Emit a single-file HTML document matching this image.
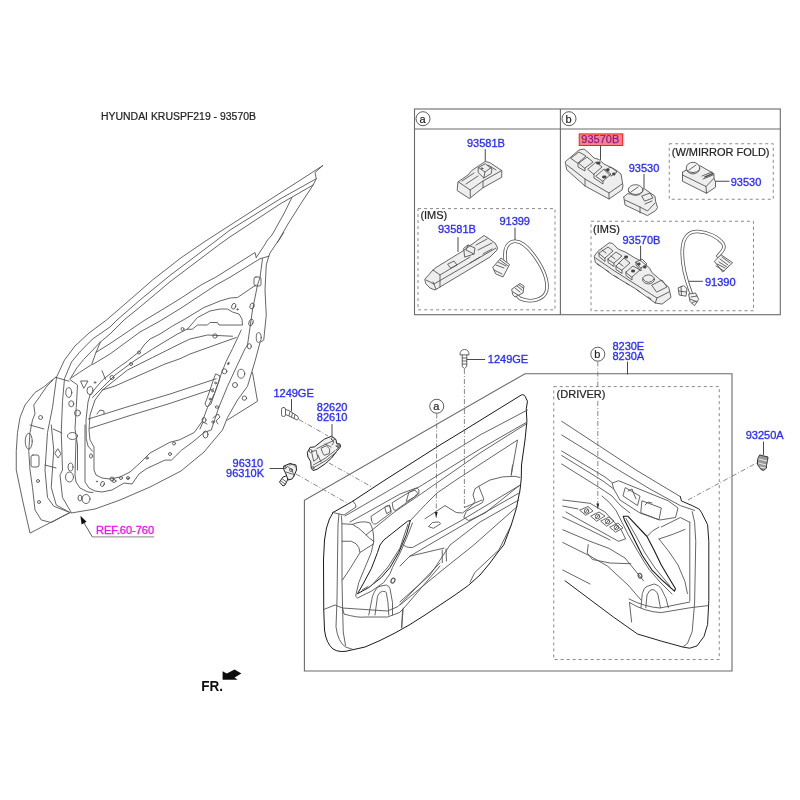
<!DOCTYPE html>
<html><head><meta charset="utf-8">
<style>
html,body{margin:0;padding:0;background:#fff;width:800px;height:800px;overflow:hidden}
svg{display:block}
text{font-family:"Liberation Sans",sans-serif;font-size:11px}
.b{fill:#2a2aff;stroke:#2a2aff;stroke-width:0.3}
.k{fill:#222;stroke:#222;stroke-width:0.2}
.box{fill:none;stroke:#6a6a6a;stroke-width:1.1}
.dash{fill:none;stroke:#8a8a8a;stroke-width:1;stroke-dasharray:3 3}
.ln{fill:none;stroke:#555;stroke-width:0.9;stroke-linejoin:round;stroke-linecap:round}
.ld{fill:none;stroke:#6a6a6a;stroke-width:0.8;stroke-dasharray:5 2 1 2}
.ldr{fill:none;stroke:#333;stroke-width:0.9}
</style></head><body>
<svg width="800" height="800" viewBox="0 0 800 800">
<defs><filter id="bl" x="0" y="0" width="800" height="800" filterUnits="userSpaceOnUse"><feGaussianBlur stdDeviation="0.45"/></filter></defs>
<g filter="url(#bl)">
<rect x="0" y="0" width="800" height="800" fill="#fff"/>
<!-- title -->
<text x="101" y="120" class="k" id="title" style="font-size:10px" textLength="155" lengthAdjust="spacingAndGlyphs">HYUNDAI KRUSPF219 - 93570B</text>

<!-- top-right boxes -->
<rect x="414.5" y="109" width="365.8" height="205.7" class="box"/>
<line x1="414.5" y1="129" x2="780.3" y2="129" class="box"/>
<line x1="560.4" y1="109" x2="560.4" y2="314.7" class="box"/>
<circle cx="423" cy="118.7" r="7" fill="none" stroke="#333" stroke-width="0.8"/>
<text x="419.5" y="122.5" class="k">a</text>
<circle cx="569" cy="118.7" r="7" fill="none" stroke="#333" stroke-width="0.8"/>
<text x="565.5" y="122.5" class="k">b</text>

<rect x="418" y="208.6" width="137" height="101.2" class="dash"/>
<rect x="669.25" y="143.75" width="104" height="55.5" class="dash"/>
<rect x="591" y="221.25" width="162.5" height="89.5" class="dash"/>

<text x="467" y="147" class="b">93581B</text>
<text x="420.4" y="219" class="k">(IMS)</text>
<text x="499.4" y="225.4" class="b">91399</text>
<text x="438" y="233.4" class="b">93581B</text>
<rect x="579.2" y="133.9" width="43.4" height="11.6" fill="#f88282" stroke="#ff1f1f" stroke-width="1"/>
<text x="581.3" y="143.4" fill="#8a1a9a" stroke="#8a1a9a" stroke-width="0.25">93570B</text>
<text x="628.75" y="172" class="b">93530</text>
<text x="671.75" y="155.5" class="k">(W/MIRROR FOLD)</text>
<text x="730.75" y="185.75" class="b">93530</text>
<text x="593" y="233" class="k">(IMS)</text>
<text x="622.5" y="243.75" class="b">93570B</text>
<text x="705" y="285.5" class="b">91390</text>

<!-- lower section -->
<path d="M304.4,671 L304.4,500.2 L525,373.75 L732,373.75 L732,671 Z" class="box"/>
<rect x="553.75" y="386.6" width="165.5" height="272.9" class="dash"/>
<text x="556.6" y="397.8" class="k">(DRIVER)</text>
<text x="487.8" y="363.3" class="b">1249GE</text>
<text x="612.4" y="349.5" class="b">8230E</text>
<text x="612.4" y="359.8" class="b">8230A</text>
<text x="745.7" y="438.8" class="b">93250A</text>
<text x="273.4" y="396.5" class="b">1249GE</text>
<text x="316.8" y="410.9" class="b">82620</text>
<text x="316.8" y="421.4" class="b">82610</text>
<text x="232.6" y="466.9" class="b">96310</text>
<text x="226.1" y="477.4" class="b">96310K</text>
<circle cx="436.75" cy="406.25" r="7" fill="none" stroke="#333" stroke-width="0.8"/>
<text x="433.3" y="410" class="k">a</text>
<circle cx="597.8" cy="354.2" r="7" fill="none" stroke="#333" stroke-width="0.8"/>
<text x="594.3" y="358" class="k">b</text>

<text x="96" y="534.1" fill="#ee11ee" stroke="#ee11ee" stroke-width="0.3">REF.60-760</text>
<line x1="92.3" y1="536.9" x2="154.2" y2="536.9" stroke="#888" stroke-width="1"/>
<line x1="92.3" y1="536.9" x2="83.5" y2="522" stroke="#333" stroke-width="0.8"/>
<path d="M80.4,515.8 L81.6,524.6 L86.6,521.8 Z" fill="#111"/>

<text x="201.3" y="690.75" style="font-size:15px;font-weight:bold" fill="#111" textLength="21.8" lengthAdjust="spacingAndGlyphs">FR.</text>
<path d="M222.6,671.25 L222.6,679.65 L237.6,679.65 L234.6,677.4 L241.4,673.5 L234.6,669.4 L226.75,673.5 Z" fill="#111"/>

<g id="draw">
<g id="door" class="ln">
<!-- frame outer 3 lines -->
<path d="M322.75,165.6 L300,180.3 L255,209.2 L230,225.3 L205,241.4 L180,258.5 L170,266.4 L152.5,280 L140,291 L125,304 L106.5,320 L89,333 L75,346 L64.5,360 L56.6,377 L52.5,407.5 L47.5,432.5 L45,470 L47.5,497.5 L53.75,506.25 L70,512.5"/>
<path d="M316.25,178.75 L280,199 L230,230 L217,240 L170,275.4 L140,300 L117,320 L110,327 L92.5,339 L79.4,352.4 L71.5,362 L64.5,378.6 L62.5,401.25 L61.25,432.5 L62.5,470 L60,475 L62.5,497.5 L71.25,512.5"/>
<path d="M313.1,185 L280,204 L230,236.9 L220,244 L170,281.75 L140,307 L124,320 L110,334 L100.4,342 L83.75,359.4 L76.75,368 L69.75,379.5 L77.5,385 L76.25,407.5 L75,428.75 L77.5,445 L77.5,470"/>
<path d="M100.4,342 L96,352.4 L91.6,364.6 L79.4,372.5 L71.5,377.75"/>
<path d="M55.75,377.3 L69,381.25 M102,370.75 L105.6,379.5"/>
<!-- tip -->
<path d="M322.75,165.6 L315,172.5 L316.25,178.75 L313.1,185"/>
<!-- rear pillar -->
<path d="M291.9,197.5 L283.75,214 L272,235 L267.5,240 L263.75,246.25 L256.25,257.5"/>
<path d="M313.1,185 L300,205 L288,224 L278.75,240 L270,253 L268.75,256.25"/>
<path d="M283.75,232.5 L277.5,242.5"/>
<!-- belt lines -->
<path d="M256.25,257.5 L255,252.5 L230,268.25 L216,277 L201,285 L180,298.75 L160,311 L145,320 L110,343.6 L96,352.4"/>
<path d="M268.75,256.25 L260,258.75 L230,277.25 L216,285 L180,308.75 L160,321 L140,332 L110,354 L92.5,364.6"/>
<!-- inner panel rear edge -->
<path d="M268.75,256.25 L266.25,265 L265,290 L266.25,315 L263.75,340 L260,342.5 L255,361.25 L247.5,386.25 L237.5,400 L227.5,417.5 L222.5,430 L214,440 L204,452 L181,471 L150,487 L120,500 L95,509 L71.25,513"/>
<path d="M262.5,258.75 L260,277.5 L257.5,285 L252.5,310 L247.5,345 L245,348.75 L235,370 L227.5,386.25 L218.75,407.5 L211.25,430 L204,432.5 L194,441 L181.25,450.4 L171.5,460.1 L165,460.1 L150,467"/>
<path d="M252.5,372.5 L257.5,401.25 L227.5,420"/>
<!-- window opening contours -->
<path d="M256,285 L250,289 L237.5,297.5 L230,298 L220,301 L204,307.5 L185,319 L172.5,326 L160,334 L150,339 L144,345 L140,351 L127.5,361 L115,370 L102.5,380 L94,390 L90,395 L88,402 L86,420 L86.25,438.75 L88,446 L92.5,451.25"/>
<path d="M187.5,329 L197.5,317.5 L210,311 L220,309 L227.5,309 L232.5,312 L239,314 L242,319 L242.5,325 L230,325 L219,325 L217.5,322.5 L210,322.5 L207.5,325 L197.5,325 L192.5,329 Z"/>
<path d="M187.5,329 L177.5,334 L152.5,349 L134,361 L115,375 L102.5,387.5 L92.5,397.5"/>
<path d="M232.5,336.25 L207.5,335 L190,339 L180,343.75 L152.5,357.5 L127.5,370 L102.5,390"/>
<path d="M236.25,337.5 L190,354 L180,358.75 L165,364 L140,375 L115,386 L102.5,390"/>
<path d="M241.25,330 L232.5,348.75 L226.25,361.25 L221.25,373.75 L215,392.5 L207.5,407.5 L202.4,421.1 L194.25,432.5 L179.6,439.8 L169.9,442.25 L150,453 L140,463 L130,472 L120,477 L110,479 L102,478 L96,475 L94,470 L94,447 L90,440 L89,430 L90,415 L95,400 L102.5,390"/>
<!-- beams -->
<path d="M88.4,419 L130,406 L170,394 L216.25,378.75"/>
<path d="M89.6,428.4 L130,415.5 L170,403.4 L213.75,388.75"/>
<!-- front edge -->
<path d="M55.75,377.3 L50.5,381.25 L44.4,386.5 L35,392.5 L25,405 L20,417.5 L17.5,432.5 L16.25,451.25 L16.25,470 L17.5,476 L22.5,500 L30,533.1 L70,512.5"/>
<path d="M53,380 L47,386 L40,396.25 L33.75,405 L35,413.75 L32.5,420 L30,432.5 L28.75,451.25 L30,470 L32.5,487.5 L35,510 L41.25,520 L51.25,522.5 L70,512.5"/>
<path d="M51.25,425 L53.75,450 L51.25,487.5 L56.25,505 L68.75,511.9"/>
<path d="M85,425 L85,482 L89,488 L95,491 L102,492 L112,490 L124,483 L132,484 L139,474 L146,469 L150,467"/>
<path d="M76,440 L75,475 L76,482 L80,488 L88,492 L93,492.5"/>
<path d="M30,425 L44,429 M53,429 L62,433 M45,465 L56,468"/>
</g>
<g id="doorholes" class="ln">
<ellipse cx="233.75" cy="306.25" rx="2" ry="3" transform="rotate(20 233.75 306.25)"/>
<ellipse cx="252" cy="306" rx="2" ry="3" transform="rotate(20 252 306)"/>
<ellipse cx="251" cy="322.5" rx="2" ry="3.5" transform="rotate(20 251 322.5)"/>
<circle cx="237.5" cy="309.4" r="0.7"/>
<circle cx="182.5" cy="329" r="1.5"/>
<circle cx="139" cy="352.5" r="1.5"/>
<circle cx="131" cy="364" r="1.5"/>
<circle cx="112" cy="377.5" r="2"/>
<circle cx="95" cy="382.5" r="0.8"/>
<circle cx="215" cy="336" r="2.2"/>
<rect x="254" y="277" width="7" height="9" rx="2"/>
<ellipse cx="258.75" cy="337.5" rx="2.5" ry="5"/>
<ellipse cx="249.4" cy="346.25" rx="2" ry="2.6"/>
<ellipse cx="241.25" cy="373.75" rx="3.5" ry="4.5"/>
<ellipse cx="235" cy="385" rx="2.5" ry="2.5"/>
<ellipse cx="244.4" cy="398.1" rx="2.2" ry="2.2"/>
<ellipse cx="224.4" cy="371.25" rx="2.5" ry="2.5"/>
<ellipse cx="28.75" cy="441.25" rx="3.5" ry="8"/>
<rect x="31" y="455" width="8" height="12" rx="2"/>
<path d="M58,449 L61,453.75 L58,458 L55,453.75 Z"/>
<ellipse cx="71.25" cy="403.75" rx="2.5" ry="3"/>
<ellipse cx="77.5" cy="413" rx="3" ry="3"/>
<ellipse cx="72.5" cy="436" rx="5" ry="3.5"/>
<ellipse cx="68.75" cy="392.5" rx="3" ry="5"/>
<path d="M81,381 L88,381 L84,388 Z"/>
<ellipse cx="90" cy="390.6" rx="3" ry="4"/>
<ellipse cx="40.6" cy="417.5" rx="2" ry="2"/>
<ellipse cx="69.5" cy="477" rx="4" ry="5"/>
<ellipse cx="70.5" cy="467" rx="2.5" ry="4"/>
<ellipse cx="86" cy="499" rx="4" ry="4.5"/>
<ellipse cx="80" cy="498" rx="2" ry="3"/>
<ellipse cx="102.5" cy="484" rx="1.8" ry="2.6" transform="rotate(20 102.5 484)"/><ellipse cx="114" cy="481" rx="2" ry="1.4"/><circle cx="97" cy="481.5" r="0.6"/><circle cx="128" cy="478.5" r="0.6"/><ellipse cx="91" cy="456" rx="1.5" ry="2.2"/>
<ellipse cx="38" cy="481" rx="1.5" ry="1.5"/>
<ellipse cx="39" cy="502" rx="1.5" ry="1.5"/>
<ellipse cx="112" cy="479" rx="2" ry="2"/>
<ellipse cx="121" cy="478" rx="1.5" ry="1.5"/>
<ellipse cx="128" cy="478" rx="1.5" ry="1.5"/>
<ellipse cx="147" cy="458" rx="1.2" ry="1.2"/>
<ellipse cx="170" cy="454" rx="1.5" ry="1.5"/>
<ellipse cx="174" cy="443.5" rx="1.5" ry="1.5"/>
<ellipse cx="204" cy="420" rx="2" ry="2.5"/>
<ellipse cx="205.5" cy="434.5" rx="2.5" ry="3.5"/>
<ellipse cx="213" cy="422" rx="1.2" ry="1.2"/>
<path d="M200,429 L203,422 L207,424"/>
<path d="M97,414 L100,410 L104,411 L104,414"/>
<path d="M216,374 L220,376 L219,381 L215,392 L211,404 L207,407 L205,404 L209,393 L213,381 Z"/><circle cx="215.5" cy="383" r="0.9"/><circle cx="212.5" cy="391" r="0.9"/><circle cx="210" cy="399" r="0.9"/><circle cx="228" cy="364" r="0.6"/><circle cx="228.5" cy="363" r="0.6"/><ellipse cx="217" cy="407" rx="1.8" ry="1.2"/><path d="M213,418 L218,414 L220,417 L216,421 L218,424"/>
</g>
<g id="panel" class="ln">
<!-- outline dark -->
<path d="M333,512.5 L351.5,502 L353,501 L385,480 L440,445 L463,431 L521.25,395 Q524.5,393.5 526.25,398.75 L527.5,401.25 L526.25,408.75 L526.9,421.25 L525,440 L521.5,465 L521.25,478.75 L520,490 L516.25,508.75 L511.25,525 L503.75,545 L498,552 L490,563 L480,575 L468.25,585.5 L455,595 L440,605 L425,615 L410,624.5 L395,633 L380,640.5 L365,647 L351.5,650 Q340,653.5 333,649 Q326,643 324.5,630 L323.75,610 L323.5,560 L324.5,540 L326.5,528 Q329,518 333,512.5 Z" stroke="#1a1a1a" stroke-width="1"/>
<!-- ear -->
<path d="M353,501 L355.5,504.5 L356,507 L344,515 L339,514 L333,512.5"/>
<!-- rim -->
<path d="M339,514 L338,525 L337.5,560 L337,600 L336,627 Q338,642 345.5,647 L353,649.5"/>
<path d="M341.5,516 L341.9,523.75 L342,541 L342,580 L342.5,605 L343.25,632 L345.5,645.5"/>
<!-- bands -->
<path d="M345,516 L400,484 L480,435 L527.5,410"/>
<path d="M350,522 L400,494 L419,487 L480,449 L526.25,422.5"/>
<path d="M366,535 L393.75,512.5 L421.25,493.75 L480,453 L526,424"/>
<path d="M410,521 Q422,508 430,500 L437,493 L456,480 L517.5,440 L511.25,475"/>
<path d="M512.5,465 L511.25,475"/>
<!-- window switch bezel -->
<path d="M371.25,516.25 L386.25,506.25 Q389,505 390,507 L391.25,512.5 L376.25,523.75 Q373,525 372,522 Z"/>
<path d="M385,507 L389.5,505 L391,511 L387,513.5 Z"/>
<!-- slot -->
<path d="M392.5,502.5 L415,488.75 Q418,487.5 419,490 L418.75,493.75 L396.25,510 Q393.5,511 393,508 Z"/>
<path d="M406.25,501.5 L408.75,492.5 L415,490 L418,493.5 L413.5,497.5 L407.5,501"/>
<!-- curve left of handle -->
<path d="M342,523.75 L352.5,524.4 Q358.75,527.5 365,533.75 L370,538.75 L373.75,541.25"/>
<path d="M373.75,541.25 L371.25,552.5 L365,567.5 L358.75,582.5 L355.6,596.25 L357.5,598 L371.25,591.25 L383.75,582.5 L390,573.75 L392.5,567.5 L400,553 L407,537 L412.5,523"/>
<path d="M352.5,524.4 Q362,520 370,523 Q374,530 373.75,541.25"/>
<!-- handle sliver dark -->
<path d="M410,520.6 L407.5,521.25 L383.75,540 L380,545 L377.5,552.5 L371.25,568.75 L362.5,585 L357.5,593.75 L368.75,587.5 L381.25,577.5 L390,567.5 L398.75,552.5 L406.25,535 Z" stroke="#1a1a1a" stroke-width="1"/>
<path d="M408,524 L400,548 L388,567 L372,585 M362,590 L368,586.5"/>
<!-- left pocket -->
<path d="M342,541.25 L351.25,541.25 Q357,543 358.75,547.5 L360,552.5 L350,568.75 L342.5,580"/>
<path d="M360,552.5 L373.75,543.75"/>
<!-- speaker -->
<path d="M368.75,615 L372.5,596.25 Q376,587 380,586.25 L386.25,585 Q389.5,586 390,588.75 L392.5,602.5 L392.5,615"/>
<path d="M375,615 L377.5,596.25 Q379.5,591.5 382.5,591.25 Q386,591.5 386.25,592.5 L388,602.5 L388.75,615"/>
<ellipse cx="393" cy="580.6" rx="1.8" ry="2.6" transform="rotate(25 393 580.6)" stroke-width="1.2"/>
<!-- lower band -->
<path d="M323.75,609.5 L335,605 L342.5,608 L344,614 Q358,618 365,617 L387.5,617 L399.5,612.5 L404,608 L440,566"/>
<path d="M342.5,608 L365,609.5 L387.5,611 L398,606.5 L440,563"/>
<path d="M402.5,609.5 L401.75,627.5"/>
<!-- armrest -->
<path d="M425,518.75 L445,505.6 L456.25,512.5 L462.5,513 L472.5,505 L475,501.25 L473,495 L475,488.75 L478.75,486.25 L490,480 L502.5,476.9 L515,476.25 L520,477.5"/>
<path d="M478.75,486.25 L483.75,498.75 L482.5,502.5 L466.25,511.25 L463.75,517.5 L468.75,520.6 L485,513 L520,485"/>
<path d="M464.4,507.5 L482,500"/>
<path d="M402.5,543.75 Q405,548 412.5,547.5 L460,521.25 L519.5,485.5"/>
<path d="M409.75,556.25 L428.75,545 L470,521 L520,492.5"/>
<path d="M400,566 L409.75,556.25"/>
<path d="M400,601.75 L430,575 L450,545 L480,522 L518.75,500"/>
<path d="M400,605 L440,572 L473.75,545 L517.5,506.25"/>
<path d="M470,582.25 L474.75,572.5 L499,549.75 L511.25,525"/>
<path d="M409.75,556.25 L443.9,548.1 M442.25,550 L442.25,562.75 M446,549 L446.5,561"/>
<path d="M403.25,608 L401.6,627.75"/>
<!-- a target -->
<path d="M428.75,526.25 L432.5,522.5 L438.75,521.9 L440.6,523.75 L433.75,528.1 Z"/>
</g>
<g class="ld">
<path d="M464.4,369 L464.4,507.5"/>
<path d="M436.75,413.5 L436.25,514"/>
</g>
<path d="M434.8,512 L437.6,512 L436.2,518.5 Z" fill="#222"/>
<g id="driver" class="ln">
<path d="M561.7,421.25 L636,470 L680.3,496.6"/>
<path d="M561.7,435 L618.5,470 L650,489 L680.3,505.6 L694.6,510.4"/>
<path d="M561.7,451 L605,477 L612.6,483"/>
<path d="M561.7,455.5 L603,481 L613.8,489"/>
<path d="M561.7,464 L600,488 L612,496 L620,505 L630,513"/>
<!-- ear + right edges -->
<path d="M680.3,496.6 L681.5,501 L692.2,505.6 L699.3,509.2 L701.7,512.8 L707.6,524.7 L708.8,541.3 L708.8,600.7 L707.6,624.5 L704,636.4 L697,645.9 L689.8,648.2 L682.7,647 L661.3,641.1 L637.5,634 L613.8,617.3 L590,599.5 L565,580.75" stroke="#222" stroke-width="1"/>
<path d="M692.2,511.6 L694.6,522.3 L695.75,541.3 L694.6,603 L692.2,631.6 L687.4,643.5 L682.7,647"/>
<path d="M689.8,522.3 L689.8,600.7"/>
<!-- lower band -->
<path d="M629.5,602.5 Q645,612 661.3,612.6 L689.8,607.8 L708.8,605.5"/>
<path d="M629.5,602.5 L631.6,622"/>
<path d="M629,599 Q645,607 660,608 L689.8,602"/>
<!-- speaker -->
<path d="M641,607.8 L642.3,593.6 Q644,587 647,586.4 L654.2,584 Q659,585 661.3,588.8 L666,598.3 L668.4,607.8"/>
<path d="M645.8,607.8 L647,595 Q649.5,589.5 652,589.5 Q656.5,590 658,595 L660.5,607.8"/>
<ellipse cx="640" cy="575.75" rx="1.8" ry="2.4" transform="rotate(-20 640 575.75)" stroke-width="1.2"/>
<!-- handle dark -->
<path d="M623.3,516.3 L628,516.3 L647,536.5 L654,550 L661.3,565 L668.4,577 L675.5,588.8 L674.4,591.2 L661.3,579.3 L651.8,569.8 L642.3,555.5 L632.8,536.5 L624.5,520 Z" stroke="#1a1a1a" stroke-width="1.1"/>
<path d="M626,518.5 L636,536 L645,553 L655,568 L670,586"/>
<!-- bezel around handle -->
<path d="M602,496 Q610,502 616,510.4 L628,534.2 L637.5,550.8 L644.7,562.7 L649.4,569.8 L660,582 L672,594"/>
<path d="M659,539 L673.2,534.2 L685,529.4 M659,539 L668.4,550.8 L678,565 L685,581.7 L687.4,593.6"/>
<path d="M661.3,527 L680.3,517.5 L689.8,522.3"/>
<path d="M647,536.5 Q652,530 659,527"/>
<!-- top bezel/slots -->
<path d="M612.6,483 L618.5,480.7 L668.4,500.9 L678,508 L675.5,517.5 L660,520 L640,513 L620,500 L613.8,489 Z"/>
<path d="M625.6,487.8 L640,496.1 L637.5,505.6 L623.3,496.1 Z"/>
<path d="M642.3,500.9 L661.3,508 L659,519.9 L641.1,512.8 Z"/>
<path d="M628,491 L632,489 L636,499 M645,505 L648,502 L652,503"/>
<!-- switch cluster -->
<path d="M562.75,500 L590,503.3 L605,512 L620.9,529.4 L625.6,538.9 L618.5,541.3 L600,531 L580,520 L566,512" />
<path d="M562.75,506 L578,509"/>
<path d="M580,510 L588,506.5 L593,511 L586,515 Z"/>
<path d="M591,516 L599,512 L605,516 L597,521 Z"/>
<path d="M601,521 L609,517 L614,521 L607,526 Z"/>
<path d="M610,527 L618,523 L623,528 L616,532 Z"/>
<circle cx="586.5" cy="511" r="2.2"/><circle cx="597.5" cy="516.5" r="2.2"/><circle cx="607.5" cy="521.5" r="2.2"/><circle cx="616.5" cy="527.5" r="2.2"/>
<path d="M585,513 L588,509 M596,518.5 L599,514.5 M606,523.5 L609,519.5 M615,529.5 L618,525.5"/>
<!-- left lines -->
<path d="M562.75,529.75 L590,541.3 L609,548.4 L625,558 L643.5,580.75"/>
<path d="M562.75,542.5 L590,556 L607.4,566 L628,585 L641,600"/>
<path d="M588.25,544.6 L587.2,553 L592.5,559.5 L610,563 L630.75,563.75"/>
<path d="M562.75,517 L590,530 L610,540"/>
<path d="M562.75,570 L590,584"/>
</g>
<g class="ld">
<path d="M597.8,361.5 L597.8,388.5 M597.8,401 L597.8,506"/>
<path d="M688,500 L757.5,462.5"/>
</g>
<path d="M596.4,503.5 L599.2,503.5 L597.8,509.5 Z" fill="#333"/>
<g id="parts" class="ln">
<!-- leaders -->
<path class="ldr" d="M485.25,149.5 L485.25,161 M458,237.5 L458,251.5 M515,228 L515,240 M600.5,146 L600.5,159.5 M644,174.4 L644,188 M715.5,181.25 L729,181.25 M640.6,246.2 L640.6,261.4 M689,281.3 L702.4,281.3 M467,359.5 L484.75,359.5 M627.5,362 L627.5,374 M763.5,442 L763.5,454.5 M291.5,399.5 L291.5,411 M332,424.5 L332,436 M270,468.5 L284,468.5"/>

<!-- 93581B switch (a top) -->
<path d="M458.25,181.75 L468,175 L471.75,170.5 L485.25,161.5 L489.75,162.6 L501.75,170.5 L501.75,177.25 L495,181 L483,187.75 L470.25,197.9 L469.5,198.6 L457.5,190.75 Z" fill="#eeeeee"/>
<path d="M458.25,181.75 L470.25,190 L470.25,197.9 M470.25,190 L483,181 L501.75,170.5 M483,181 L483,187.75"/>
<path d="M478.5,167.5 L485.25,163.75 L492,169 L491.25,173.5 L483.75,178 L478.5,172.75 Z M478.5,167.5 L485,172 L491.25,167.5 M485,172 L483.75,178"/>
<path d="M462,181 L474,173 M466,184 L478,176 M488,165 L496,170"/>
<circle cx="482" cy="168.5" r="0.8"/>

<!-- IMS switch (a) -->
<path d="M425,279 L433,270 L436,267.5 L462,251.5 L484,235.5 L488,238 L495,243 L497.5,247.5 L497,250 L490,257 L470,269 L440,287 L435,290 L430,288 L426,284 Z" fill="#eeeeee"/>
<path d="M426,280 L434,284 L496,248 M433,282 L436,289 M433,270 L440,275 L470,257 M440,275 L440,287"/>
<path d="M464,248 L468,245 L475,248 L474,254 L465,257 Z M468,245 L466,250 L474,254"/>
<path d="M448,264 L454,261 L457,265 L451,268 Z"/>
<path d="M476,245 L487,239 M478,250 L492,243 M470,263 L480,257 M483,254 L492,249"/>

<!-- wire 91399 -->
<path d="M505.5,262 C504,252 505,243.5 513,241.5 C520,240 526,245 533,254 C542,266 549,279 546.5,291 C543.5,300.5 530,303 520,298.5 L516.5,295" fill="none" stroke="#555" stroke-width="3.6"/>
<path d="M505.5,262 C504,252 505,243.5 513,241.5 C520,240 526,245 533,254 C542,266 549,279 546.5,291 C543.5,300.5 530,303 520,298.5 L516.5,295" fill="none" stroke="#fff" stroke-width="2"/>
<path fill="#f4f4f4" d="M493,267 L501,258 L509.5,264.5 L503,277 L496,274 Z M496,265 L504,268 M498,262 L506,266 M494,270 L502,274 M500,260 L507.5,265.5" />
<path fill="#f4f4f4" d="M512,289 L520,283.5 L524,286 L523,293 L515,297 L513,295 Z M515,288 L520,292 M517,286 L522,290 M513,292 L518,295 M519,285 L523,288" />

<!-- 93570B (b main) -->
<path d="M565.5,161.5 L572,156 L579,150 L584,149 L589,153 L594,158 L599,159.5 L604,164 L610,167 L616,170 L621,174 L622,180 L623,186 L622,190 L609,199 L585,186 L567,170 Z" fill="#eeeeee"/>
<path d="M567,165 L585,179 L609,193 L622,184 M609,193 L609,199 M585,179 L585,186"/>
<path d="M571,158 L579,152 L586,156 L578,163 Z M579,163 L587,157 L593,162 L585,168 Z M588,169 L596,162 L602,167 L594,174 Z M596,176 L604,169 L611,174 L603,181 Z M605,170 L611,167 L617,172 L611,176 Z"/>
<path d="M578,163 L578,167 L585,171 L585,168 M594,174 L594,178 L603,184 L603,181"/>
<rect x="597" y="162" width="3" height="2" fill="#333"/>
<rect x="603" y="176" width="3" height="2" fill="#333"/>
<rect x="607" y="169" width="2" height="2" fill="#333"/>
<rect x="613" y="173" width="2" height="2" fill="#333"/>

<!-- 93530 mirror switch -->
<path d="M623.75,196.9 L627.5,193.75 L635,186 L644.4,188.75 L655,196.25 L655.6,201.25 L657.5,207.5 L655.6,210.6 L647.5,215.6 L636.9,210.6 L625,205 Z" fill="#eeeeee" stroke="none"/>
<path d="M623.75,196.9 L627.5,193.75 L630,194 M641,188.5 L644.4,188.75 L655,196.25 L655.6,201.25 L657.5,207.5 L655.6,210.6 L647.5,215.6 L636.9,210.6 L625,205 L623.75,196.9"/>
<ellipse cx="635.6" cy="190" rx="7.3" ry="5.3" fill="#f4f4f4"/>
<path d="M628.5,191.5 Q635.6,198 642.9,191.5 M631,192 L638,187 M625,200 L640,207 L647.5,211 L655,203 M640,207 L640,213"/>
<path d="M642,196 L650,193 L653,198 L645,201 Z M645,204 L652,201"/>

<!-- mirror fold switch -->
<path d="M682.5,172.25 L693,163 L699.75,165.5 L714,173.75 L714,178.25 L715.5,182 L715.5,187.25 L706.5,193.25 L682.5,181.25 Z" fill="#eeeeee" stroke="none"/>
<ellipse cx="693" cy="168.1" rx="6.75" ry="5.8" fill="#f4f4f4"/>
<path d="M686.5,170 Q693,175.5 699.5,170 M689,170 L696,165"/>
<path d="M682.5,172.25 L686.25,170 M699.75,165.5 L714,173.75 L714,178.25 L715.5,182 L715.5,187.25 L706.5,193.25 L682.5,181.25 L682.5,172.25"/>
<path d="M682.5,175 L706,186.5 L714,178.25 M706,186.5 L706.5,193.25 M702,176 L712,172 M703,179 L713,175"/>
<path d="M705,177 L713,173.5" stroke-width="1.6"/>

<!-- IMS 93570B (b) -->
<path d="M594.5,255.75 L597.9,251.25 L609.1,242.8 L612.5,243.4 L618.1,249 L626,252.4 L635,258 L641.75,261.4 L649.6,268.1 L651.9,272.6 L658.6,278.25 L668.75,287.25 L671,297.4 L662,304.1 L655.25,303 L635,288.4 L612.5,274.9 L595.6,262.5 Z" fill="#eeeeee"/>
<path d="M595.6,258 L613,270 L635,284 L657,298 L669,292 M657,298 L655.25,303"/>
<path d="M599,253 L608,247 L613,251 L605,258 Z M608,259 L616,252 L622,256 L614,263 Z M616,266 L624,258 L630,263 L622,270 Z M626,272 L633,266 L640,270 L632,277 Z M636,262 L642,259 L647,264 L641,268 Z"/>
<ellipse cx="648.5" cy="279.4" rx="6" ry="4.5"/>
<path d="M643,279 Q648.5,286 654,279"/>
<path d="M652,285 L662,280 L667,287 L657,292 Z"/>
<path d="M599,253 L599,256.5 L605,261.5 L605,258 M608,259 L608,262.5 L614,266.5 L614,263 M616,266 L616,269.5 L622,273.5 L622,270 M626,272 L626,275.5 L632,280 L632,277 M636,262 L636,265 L641,271 L641,268"/>
<path d="M597,264 L600,266 M606,270 L609,272 M615,276 L618,278 M626,283 L629,285 M637,290 L640,292 M648,297 L651,299"/>
<path d="M602,250 L606,253 M611,256 L615,259 M619,263 L623,266"/>
<rect x="625" y="256" width="2.5" height="2" fill="#333"/>
<rect x="632" y="270" width="2.5" height="2" fill="#333"/>
<rect x="638" y="263" width="2" height="2" fill="#333"/>
<rect x="644" y="266" width="2" height="2" fill="#333"/>

<!-- wire 91390 -->
<path d="M691,293 C686,280 681,265 682.5,248 C683.5,236 690,231 698,231.5 C708,232 718,237 723,243.5 C726,249 721,252 718,256" fill="none" stroke="#555" stroke-width="3.6"/>
<path d="M691,293 C686,280 681,265 682.5,248 C683.5,236 690,231 698,231.5 C708,232 718,237 723,243.5 C726,249 721,252 718,256" fill="none" stroke="#fff" stroke-width="2"/>
<path fill="#f4f4f4" d="M714.6,261 L721,254.75 L732.7,262.7 L723,271.75 Z M717,264 L725,268 M720,259 L728,265 M716,266 L724,271 M722,257 L730,263 M719,262 L727,267"/>
<path fill="#f4f4f4" d="M678.5,287.7 L683.8,285.6 L687,288.75 L686,296.2 L679.6,295.1 Z M679,291 L686,292 M681,286.5 L681.5,295.5"/>
<path fill="#f4f4f4" d="M689,294 L695.5,293 L698.7,299.4 L694.4,305.8 L690.2,301.5 Z M691,297 L697,296 M690,299 L697,302 M692,303 L696,301"/>

<!-- top screw -->
<path d="M460,354.5 Q460,349.5 464.5,349.5 Q469,349.5 469,354.5 Z"/>
<path d="M462.25,355 L462.25,366.5 L464.5,368.5 L466.75,366.5 L466.75,355 M462.25,358 L466.75,358 M462.25,361 L466.75,361 M462.25,364 L466.75,364"/>

<!-- 93250A clip -->
<path d="M760,455 L768,457 L767.5,461 L766.5,465 L766.5,468 L763.5,470.5 L761,469.5 L757.5,464.5 L757.5,460 Z" fill="#999" stroke="#222"/>
<path d="M759,459 L767,461 M758.5,463 L766,465 M760,467 L765,468" stroke="#fff" stroke-width="0.8"/>

<!-- left screw 1249GE -->
<rect x="281.5" y="407.5" width="4" height="9" rx="1.8"/>
<path d="M285.5,409.5 L289,410.5 L298,416.5 L298.5,419 L297,420 L289,416 L285.5,414.5 M290,411.5 L289,415.5 M292.5,413 L291.5,417 M295,414.5 L294,418.5"/>

<!-- handle 82620 -->
<path d="M324.75,439 L331.5,436.2 L336,439.6 L336.6,443.5 L340,444 L340.5,446.9 L336.6,451.4 L331.5,458.1 L325.3,463.75 L316.9,469.4 L313,470.5 L311.25,468.25 L310.7,461.5 L307.9,457 L307.3,452.5 L310.1,447.4 L314.1,446.9 Z" fill="#f2f2f2" stroke="#222" stroke-width="1"/>
<path d="M313.5,464.9 Q326,459 334.9,450.8 M314.6,467.1 Q327,461 336,452.5"/>
<path d="M321.4,448 L326.4,445.75 L329.8,449.1 L329.25,453.6 L324.2,455.3 L322.5,452.5 Z"/>
<path d="M316.9,448.6 L328.1,443 L333,441 M312,452 L316,450 L318,458 L314,461 Z M331,439 L334,442 L332,445 M336,446 L339,447.5 L336,450"/>
<circle cx="333" cy="438.8" r="1.6"/><circle cx="338" cy="446" r="1.3"/><circle cx="310.5" cy="451" r="1.5"/><circle cx="313" cy="467.8" r="1.2"/>
<path d="M318,455 L321,462 M325,444 L331,447"/>
<!-- 96310 -->
<path d="M284,466 L290,463.5 L296,465 L296.5,470 L294,476 L292,479 L288,480 L286,474 L284,470 Z" fill="#f0f0f0" stroke="#222" stroke-width="1"/>
<path d="M288,479 L285,485 L283,486 L279.5,482 L283,477 L286,476" stroke="#222" stroke-width="1"/>
<path d="M287,466 L292,470 L294,476 M286,472 L292,474 M281,481 L285,484 M282.5,479 L286.5,482 M289,465 L293,464.5 L295.5,467"/>
<circle cx="285" cy="467.5" r="1.3"/><circle cx="291" cy="470" r="1.5"/>
</g>
<g class="ld">
<path d="M299,419.5 L328,436"/>
<path d="M329,463 L372,487"/>
<path d="M296,474 L347,503"/>
</g>
</g>
</g>
</svg>
</body></html>
